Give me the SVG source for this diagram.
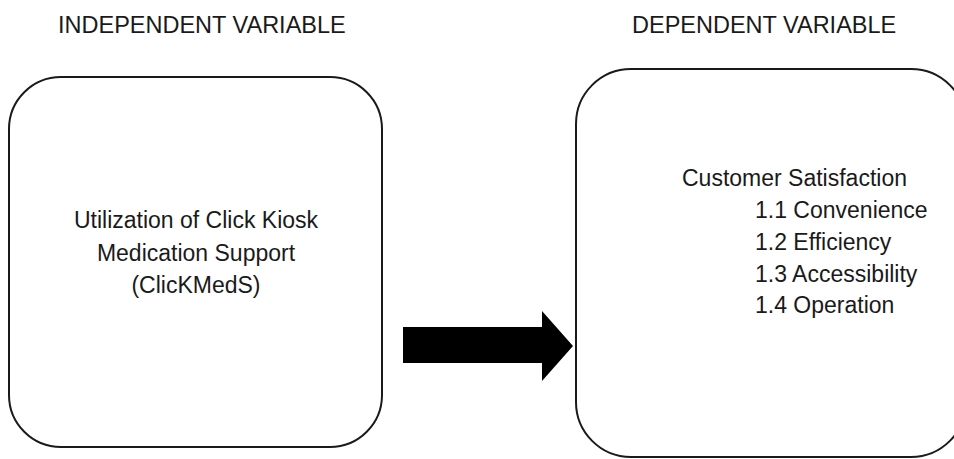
<svg xmlns="http://www.w3.org/2000/svg" width="954" height="459" viewBox="0 0 954 459">
<style>
.box{fill:#fff;stroke:#1a1a1a;stroke-width:2}
.t{font-family:"Liberation Sans",Arial,sans-serif;fill:#1a1a1a}
.title{font-size:23.5px}
.lbl{font-size:23px}
</style>
<rect width="954" height="459" fill="#fff"/>
<text class="t title" x="58" y="33">INDEPENDENT VARIABLE</text>
<text class="t title" x="632" y="33">DEPENDENT VARIABLE</text>
<g id="independent">
<rect class="box" x="9" y="77" width="373" height="370" rx="52" ry="52"/>
<text class="t lbl" text-anchor="middle" x="196" y="228">Utilization of Click Kiosk</text>
<text class="t lbl" text-anchor="middle" x="196" y="261">Medication Support</text>
<text class="t lbl" text-anchor="middle" x="196" y="293">(ClicKMedS)</text>
</g>
<g id="dependent">
<rect class="box" x="576" y="69" width="390" height="388" rx="55" ry="55"/>
<text class="t lbl" x="682" y="186">Customer Satisfaction</text>
<text class="t lbl" x="755" y="218">1.1 Convenience</text>
<text class="t lbl" x="755" y="250">1.2 Efficiency</text>
<text class="t lbl" x="755" y="282">1.3 Accessibility</text>
<text class="t lbl" x="755" y="313">1.4 Operation</text>
</g>
<g id="connectors">
<polygon points="403,327 542,327 542,311 573,346 542,381 542,363 403,363" fill="#000"/>
</g>
</svg>
